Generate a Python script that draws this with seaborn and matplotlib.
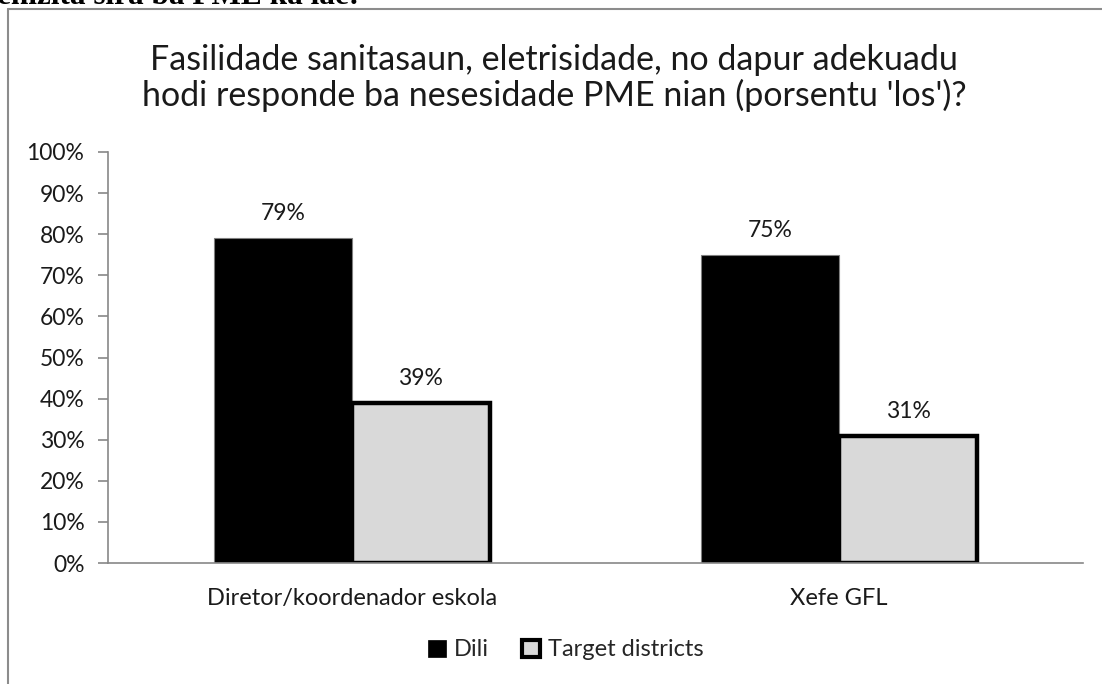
import matplotlib
matplotlib.use("Agg")
import matplotlib.pyplot as plt
import seaborn as sns
import pandas as pd
from matplotlib.patches import Patch
from matplotlib.lines import Line2D

categories = ["Diretor/koordenador eskola", "Xefe GFL"]
series_names = ["Dili", "Target districts"]
dili_values = [79, 75]
target_values = [39, 31]
y_ticks = [0, 10, 20, 30, 40, 50, 60, 70, 80, 90, 100]
title = "Fasilidade sanitasaun, eletrisidade, no dapur adekuadu\nhodi responde ba nesesidade PME nian (porsentu 'los')?"
top_text = "enizita sira ba PME ka lae:"

df = pd.DataFrame({
    "category": categories * 2,
    "series": [series_names[0]] * 2 + [series_names[1]] * 2,
    "value": dili_values + target_values,
})

sns.set_theme(style="white")
FONT = "Lato"
plt.rcParams["font.family"] = [FONT, "DejaVu Sans"]

W, H = 1102, 684
fig = plt.figure(figsize=(W / 100, H / 100), dpi=100)
ax = fig.add_axes([108 / W, 1 - 563 / H, (1083 - 108) / W, (563 - 152) / H])

palette = {series_names[0]: "#000000", series_names[1]: "#d9d9d9"}
sns.barplot(data=df, x="category", y="value", hue="series", order=categories,
            hue_order=series_names, palette=palette, width=0.566, ax=ax,
            legend=False, saturation=1)

FS = 16.5
for i, cont in enumerate(ax.containers):
    for bar in cont:
        if i == 0:
            bar.set_edgecolor("#7f7f7f")
            bar.set_linewidth(0.8)
        else:
            bar.set_edgecolor("#000000")
            bar.set_linewidth(3.2)
            bar.set_joinstyle("miter")
    ax.bar_label(cont, labels=[f"{v:.0f}%" for v in cont.datavalues],
                 padding=10, fontsize=FS, color="#1a1a1a", family=FONT)

ax.set_ylim(0, 100)
ax.set_xlim(-0.5, 1.5)
ax.set_yticks(y_ticks)
ax.set_yticklabels([f"{t}%" for t in y_ticks], fontsize=FS, color="#1a1a1a")
ax.set_xticks([0, 1])
ax.set_xticklabels(categories, fontsize=FS + 0.5, color="#1a1a1a")
ax.set_xticks([-0.5, 0.5, 1.5], minor=True)
ax.tick_params(axis="x", which="major", length=0, pad=18)
ax.tick_params(axis="x", which="minor", length=7, color="#888888", width=1.2, direction="out")
ax.tick_params(axis="y", length=7, color="#888888", width=1.2, direction="out", pad=10, left=True)
ax.set_xlabel("")
ax.set_ylabel("")
for s in ["top", "right"]:
    ax.spines[s].set_visible(False)
for s in ["left", "bottom"]:
    ax.spines[s].set_color("#888888")
    ax.spines[s].set_linewidth(1.2)
ax.grid(False)

fig.text(554 / W, 1 - 78 / H, title, ha="center", va="center",
         fontsize=24.5, color="#1a1a1a", linespacing=1.12)

handles = [
    Patch(facecolor="#000000", edgecolor="#000000", linewidth=0.5),
    Patch(facecolor="#d9d9d9", edgecolor="#000000", linewidth=3),
]
fig.legend(handles, series_names, loc="center", bbox_to_anchor=(566 / W, 1 - 650 / H),
           ncol=2, frameon=False, fontsize=FS + 0.5, handlelength=0.75, handleheight=0.75,
           handletextpad=0.35, columnspacing=1.4)

# outer frame (partly cut)
fig.add_artist(Line2D([8 / W, 8 / W], [0, 1 - 9 / H], transform=fig.transFigure,
                      color="#8c8c8c", linewidth=1.5))
fig.add_artist(Line2D([8 / W, 1], [1 - 9 / H, 1 - 9 / H], transform=fig.transFigure,
                      color="#8c8c8c", linewidth=1.5))

fig.text(-3 / W, 1 - 4 / H, top_text, ha="left", va="baseline", fontsize=22.5,
         fontweight="bold", family=["Liberation Serif", "DejaVu Serif"], color="#000000")

fig.savefig("out.png", dpi=100)
